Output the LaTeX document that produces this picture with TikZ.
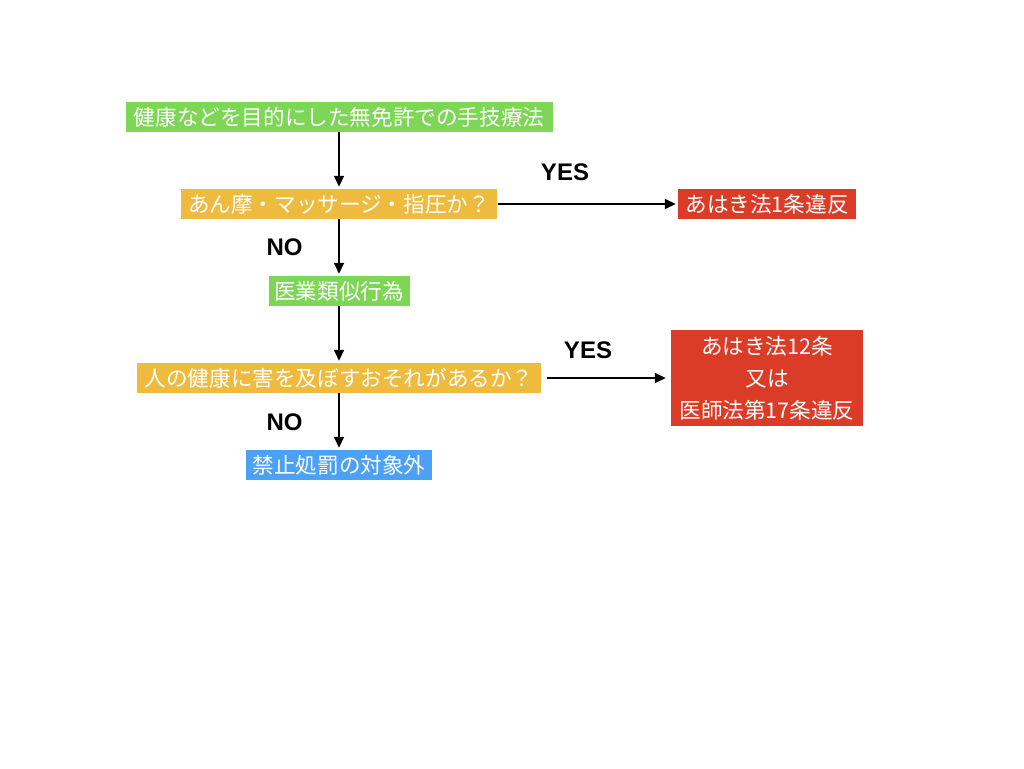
\documentclass[tikz,border=0pt]{standalone}
\usepackage{fontspec}
\setmainfont{Noto Sans CJK JP}
\newfontfamily\labelfont{Liberation Sans}
\usepackage{tikz}
\usepackage{xcolor}
\usetikzlibrary{arrows.meta}
\definecolor{boxgreen}{RGB}{126,214,86}
\definecolor{boxyellow}{RGB}{239,187,62}
\definecolor{boxred}{RGB}{218,60,40}
\definecolor{boxblue}{RGB}{76,161,245}

\begin{document}
\begin{tikzpicture}[x=1pt,y=1pt,
  box/.style={text=white,inner sep=0pt,minimum height=30pt,
    font=\fontsize{21.6}{32}\selectfont},
  answer/.style={font=\labelfont\bfseries\fontsize{24}{28}\selectfont},
  flow/.style={line width=1.6pt,-{Triangle[length=11pt,width=10pt]},shorten >=2pt}]
\useasboundingbox (0,0) rectangle (1024,-768);
\node [box,fill=boxgreen,minimum width=427pt] (start) at (339,-117) {健康などを目的にした無免許での手技療法};
\node [box,fill=boxyellow,minimum width=316pt] (q1) at (339,-204) {あん摩・マッサージ・指圧か？};
\node [box,fill=boxred,minimum width=178pt] (law1) at (767,-204) {あはき法1条違反};
\node [box,fill=boxgreen,minimum width=141pt] (similar) at (339,-291) {医業類似行為};
\node [box,fill=boxyellow,minimum width=404pt] (q2) at (339,-378) {人の健康に害を及ぼすおそれがあるか？};
\node [box,fill=boxred,minimum width=192pt,minimum height=96pt,align=center] (law2) at (767,-378) {あはき法12条\\又は\\医師法第17条違反};
\node [box,fill=boxblue,minimum width=186pt] (outside) at (339,-465) {禁止処罰の対象外};
\draw [flow] (start.south) -- (q1.north);
\draw [flow] (q1.south) -- (similar.north);
\draw [flow] (similar.south) -- (q2.north);
\draw [flow] (q2.south) -- (outside.north);
\draw [flow,shorten <=1pt] (q1.east) -- (law1.west);
\draw [flow,shorten <=6pt,shorten >=5pt] (q2.east) -- (law2.west);
\node [answer] (yes1) at (565,-172.5) {YES};
\node [answer] (no1) at (284.5,-247.5) {NO};
\node [answer] (yes2) at (588,-350) {YES};
\node [answer] (no2) at (284.5,-422.5) {NO};
\end{tikzpicture}
\end{document}
